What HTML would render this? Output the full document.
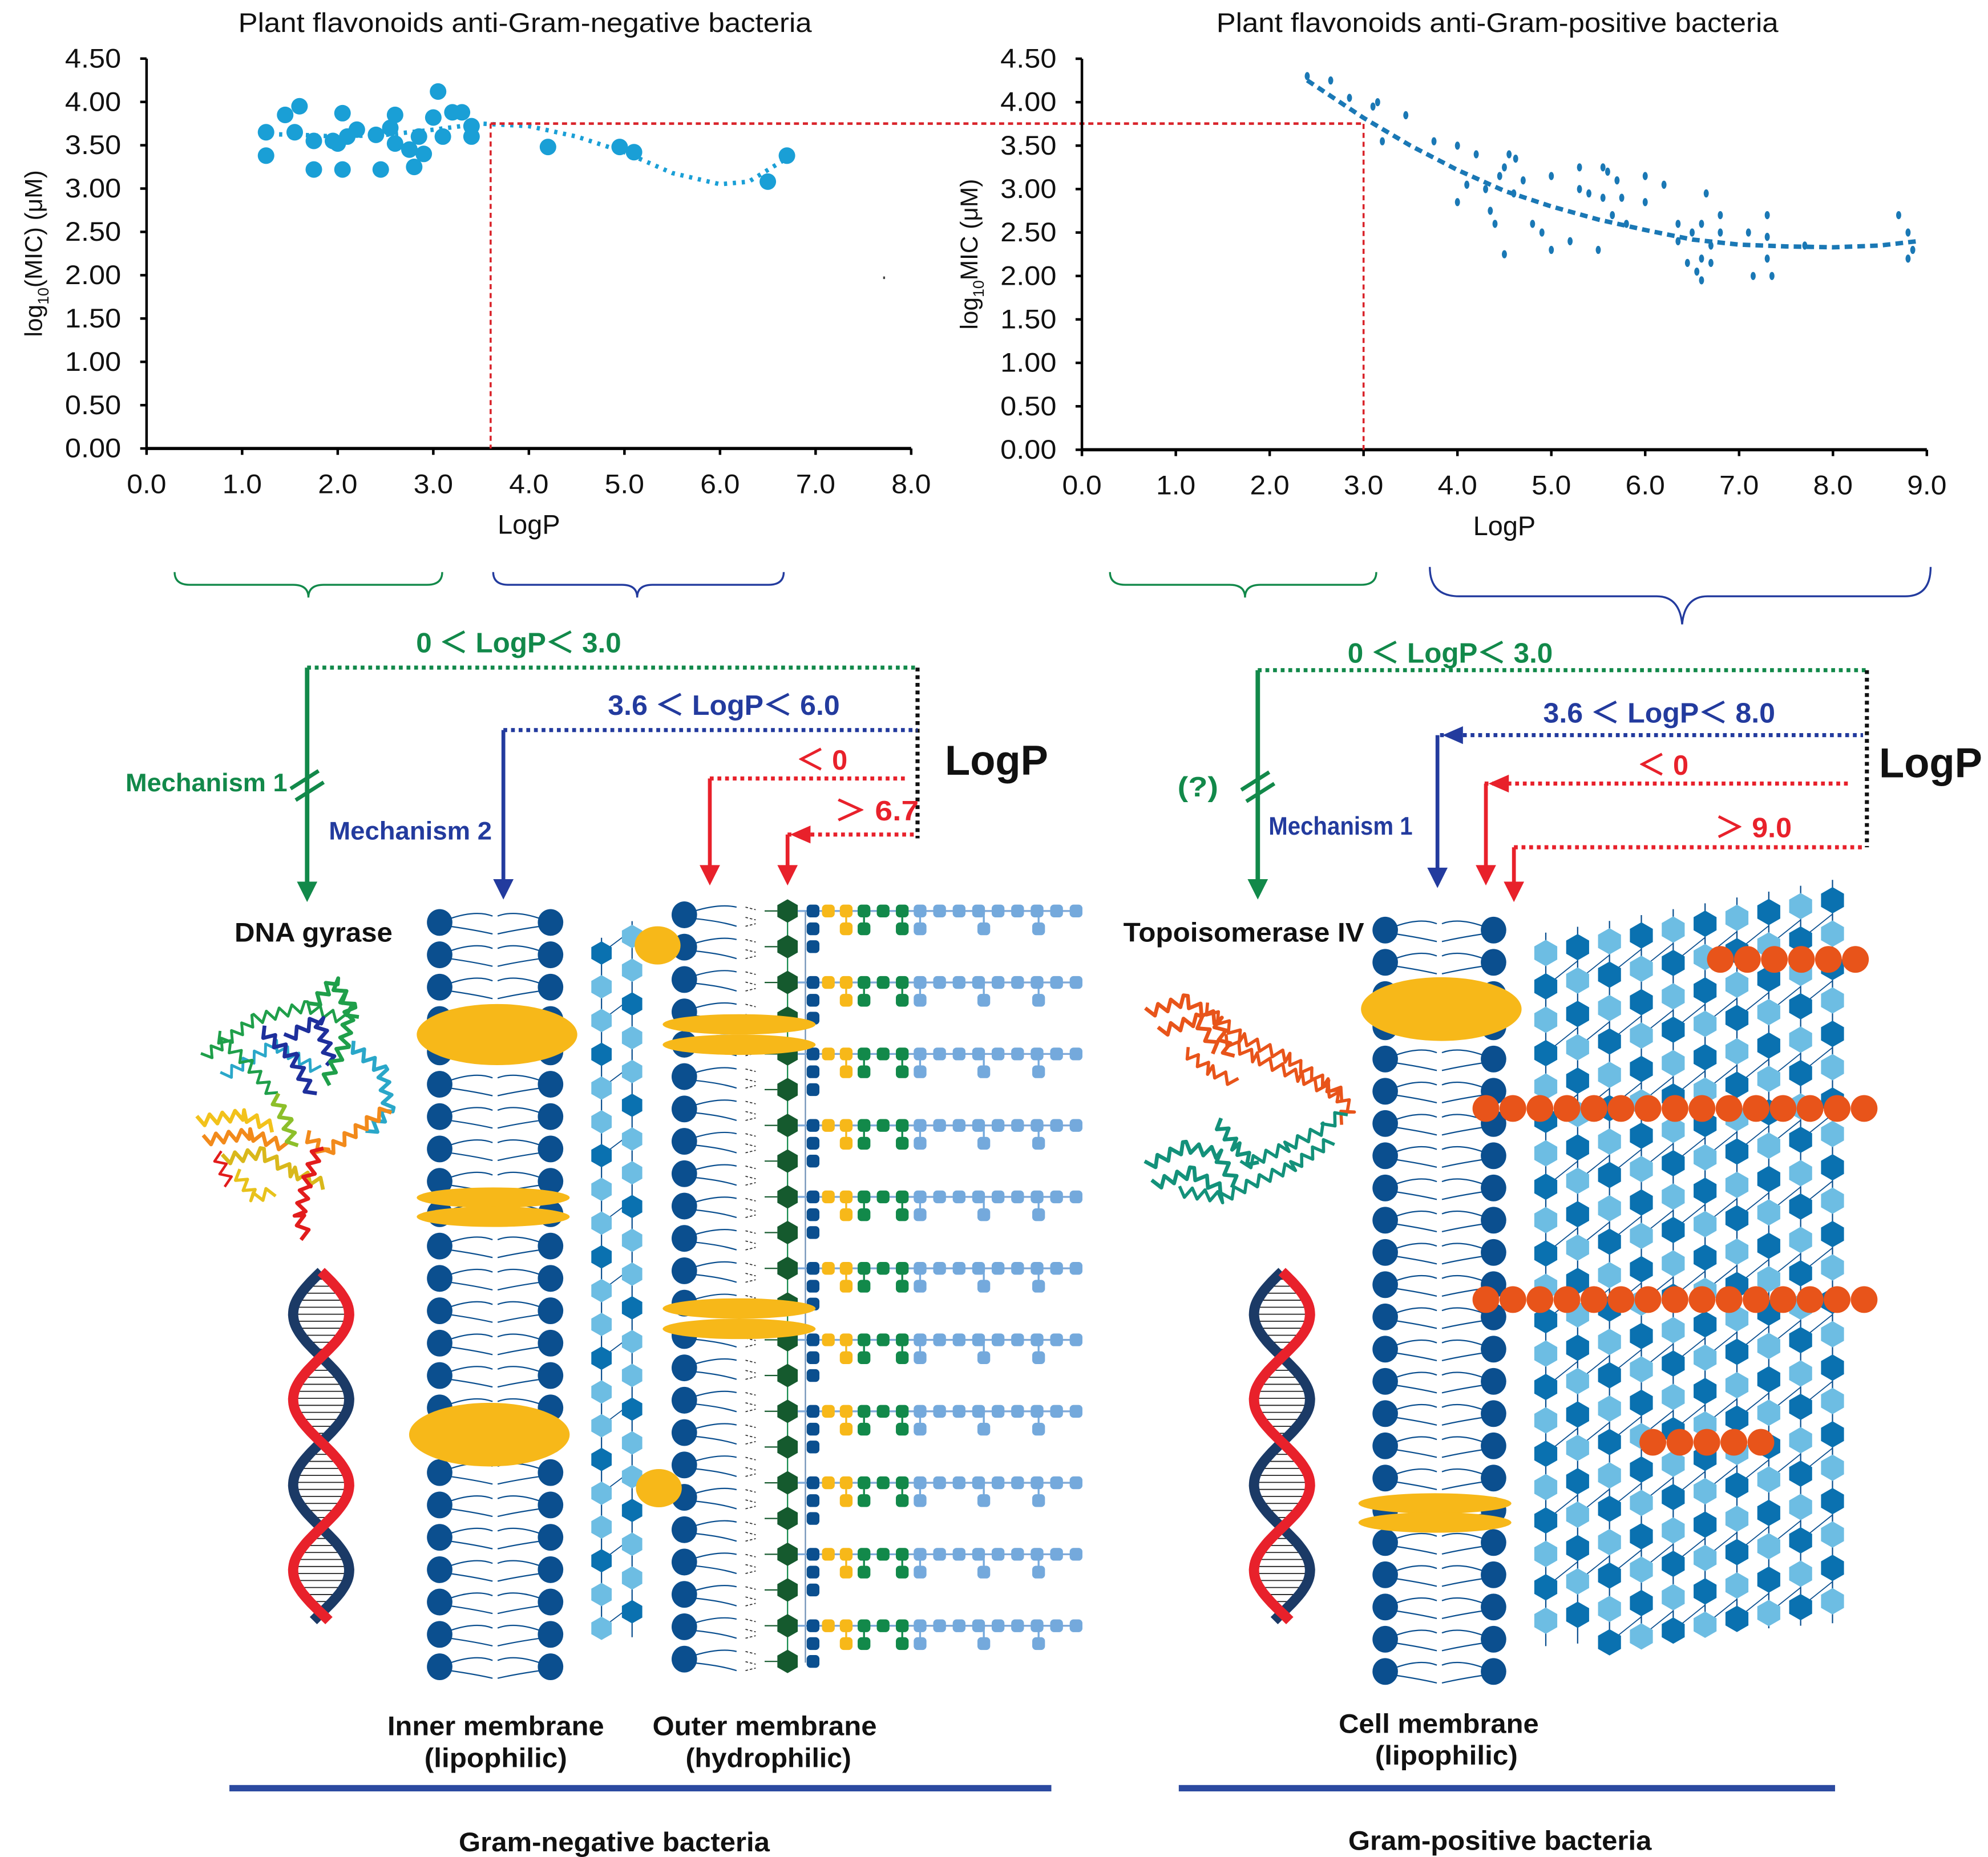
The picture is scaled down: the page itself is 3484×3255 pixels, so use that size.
<!DOCTYPE html>
<html><head><meta charset="utf-8">
<style>
html,body{margin:0;padding:0;background:#fff;}
svg{display:block;font-family:"Liberation Sans",Arial,sans-serif;}
</style></head>
<body>
<svg id="fig" xmlns="http://www.w3.org/2000/svg" width="3484" height="3255" viewBox="0 0 1560 1457.5">
<rect x="0" y="0" width="1560" height="1457.5" fill="#fff"/>
<g id="chartL"></g>
<g id="chartR"></g>
<g id="diagram"></g>
</svg>
<script>
// ---------- Chart data ----------
const negX = [1.25,1.25,1.45,1.6,1.55,1.75,1.75,1.95,2.05,2.05,2.1,2.2,2.4,2.45,2.6,2.6,2.75,2.8,2.85,2.9,3.0,3.1,3.05,3.2,3.3,3.4,3.4,4.2,4.95,5.1,6.5,6.7,2.0,2.55];
const negY = [3.65,3.38,3.85,3.95,3.65,3.55,3.22,3.55,3.87,3.22,3.6,3.68,3.62,3.22,3.52,3.85,3.45,3.25,3.6,3.4,3.82,3.6,4.12,3.88,3.88,3.72,3.6,3.48,3.48,3.42,3.08,3.38,3.52,3.7];
const negTrendX = [1.2,1.6,2.0,2.5,3.0,3.5,4.0,4.5,5.0,5.5,6.0,6.3,6.7];
const negTrendY = [3.63,3.62,3.6,3.62,3.68,3.75,3.72,3.6,3.42,3.18,3.05,3.08,3.35];
const posX = [2.4,2.65,2.85,3.1,3.15,3.45,3.2,3.75,4.2,4.55,4.62,4.5,4.45,4.0,4.3,4.35,4.4,4.6,4.5,4.8,4.9,5.0,5.3,5.55,5.6,5.3,5.4,5.7,5.55,5.65,5.75,5.8,6.0,6.2,6.0,6.35,6.5,5.2,5.0,5.5,6.6,6.7,6.6,6.65,6.8,7.3,7.1,7.3,6.55,6.6,7.15,7.35,6.8,6.45,7.3,7.7,8.7,8.8,8.85,8.8,4.0,6.35,6.7,4.1,4.7];
const posY = [4.3,4.25,4.05,3.95,4.0,3.85,3.55,3.55,3.4,3.4,3.35,3.25,3.15,2.85,3.0,2.75,2.6,2.95,2.25,2.6,2.5,3.15,3.25,3.25,3.2,3.0,2.95,3.1,2.9,2.7,2.9,2.6,3.15,3.05,2.85,2.6,2.5,2.4,2.3,2.3,2.2,2.35,2.6,2.95,2.7,2.7,2.5,2.2,2.05,1.95,2.0,2.0,2.5,2.15,2.45,2.35,2.7,2.5,2.3,2.2,3.5,2.4,2.15,3.05,3.1];
const posTrendX = [2.4,3.0,3.5,4.0,4.5,5.0,5.5,6.0,6.5,7.0,7.5,8.0,8.5,8.9];
const posTrendY = [4.25,3.82,3.5,3.22,2.98,2.8,2.65,2.53,2.42,2.36,2.34,2.33,2.35,2.4];
const yTicks = ["0.00","0.50","1.00","1.50","2.00","2.50","3.00","3.50","4.00","4.50"];
const xTicksL = ["0.0","1.0","2.0","3.0","4.0","5.0","6.0","7.0","8.0"];
const xTicksR = ["0.0","1.0","2.0","3.0","4.0","5.0","6.0","7.0","8.0","9.0"];
const thresholdMIC = [3.75];
const thresholdNeg = [3.6];
const thresholdPos = [3.0];

const NS = "http://www.w3.org/2000/svg";
function mk(tag, parent, attrs){ const e=document.createElementNS(NS,tag); for(const k in attrs) e.setAttribute(k,attrs[k]); parent.appendChild(e); return e; }
function txt(parent, x, y, s, attrs){ const t=mk('text',parent,Object.assign({x:x,y:y},attrs||{})); t.textContent=s; return t; }

const xL = v => 115 + v*75;
const yL = v => 352 - v*68;
const xR = v => 849 + v*73.67;
const yR = v => 353 - v*68.2;

function drawChart(g, xs, ys, xTicks, xMax, ptsX, ptsY, trX, trY, title, titleX, titleLen, yTitleSub, rightStyle, thrX){
  const t = txt(g, titleX, 25, title, {'font-size':21,'text-anchor':'middle',fill:'#111',textLength:titleLen,lengthAdjust:'spacingAndGlyphs'});
  
  
  const ya = mk('line', g, {x1:xs(0),y1:ys(4.5),x2:xs(0),y2:ys(0),stroke:'#000','stroke-width':2});
  
  
  const xa = mk('line', g, {x1:xs(0),y1:ys(0),x2:xs(xMax),y2:ys(0),stroke:'#000','stroke-width':2.5});
  
  
  yTicks.forEach((lab,i)=>{
    const v = parseFloat(lab);
    mk('line', g, {x1:xs(0)-5,y1:ys(v),x2:xs(0),y2:ys(v),stroke:'#000','stroke-width':2});
    const tl = txt(g, xs(0)-20, ys(v)+7, lab, {'font-size':21,'text-anchor':'end',fill:'#111',textLength:44,lengthAdjust:'spacingAndGlyphs'});
    
    
  });
  xTicks.forEach((lab,i)=>{
    const v = parseFloat(lab);
    mk('line', g, {x1:xs(v),y1:ys(0),x2:xs(v),y2:ys(0)+5,stroke:'#000','stroke-width':2});
    const tl = txt(g, xs(v), ys(0)+35, lab, {'font-size':21,'text-anchor':'middle',fill:'#111',textLength:31,lengthAdjust:'spacingAndGlyphs'});
    
    
  });
  const xt = txt(g, xs(0)+(xs(xMax)-xs(0))/2, ys(0)+67, 'LogP', {'font-size':21,'text-anchor':'middle',fill:'#111'});
  
  
  const ytx = xs(0)-82, yty = ys(2.25);
  const yt = mk('text', g, {x:ytx,y:yty,'font-size':19,'text-anchor':'middle',fill:'#111',transform:'rotate(-90 '+ytx+' '+yty+')'});
  
  
  yt.innerHTML = yTitleSub;
  const ty = ys(thresholdMIC[0]);
  const vl = mk('line', g, {x1:xs(thrX),y1:ty,x2:xs(thrX),y2:ys(0),stroke:'#d9232a','stroke-width':1.6,'stroke-dasharray':'4 3'});
  
  
  const d = trX.map((v,i)=>(i?'L':'M')+xs(v).toFixed(1)+' '+ys(trY[i]).toFixed(1)).join(' ');
  const tr = mk('path', g, {d:d,fill:'none',stroke:rightStyle?'#1a78b5':'#1a9fd6','stroke-width':3.5,'stroke-dasharray':rightStyle?'6 4':'2.5 4.5'});
  
  
  ptsX.forEach((v,i)=>{
    let p;
    if(rightStyle){ p = mk('ellipse', g, {cx:xs(v),cy:ys(ptsY[i]),rx:2,ry:3.2,fill:'#1a78b5'}); }
    else { p = mk('circle', g, {cx:xs(v),cy:ys(ptsY[i]),r:6.5,fill:'#1a9fd6'}); }
    
    
  });
}
const gL = document.getElementById('chartL');
const gR = document.getElementById('chartR');
drawChart(gL, xL, yL, xTicksL, 8, negX, negY, negTrendX, negTrendY, 'Plant flavonoids anti-Gram-negative bacteria', 412, 450,
  'log<tspan font-size="12" dy="5">10</tspan><tspan dy="-5">(MIC) (μM)</tspan>', false, thresholdNeg[0]);
drawChart(gR, xR, yR, xTicksR, 9, posX, posY, posTrendX, posTrendY, 'Plant flavonoids anti-Gram-positive bacteria', 1175, 441,
  'log<tspan font-size="12" dy="5">10</tspan><tspan dy="-5">MIC (μM)</tspan>', true, thresholdPos[0]);
const hl = mk('line', gL, {x1:xL(thresholdNeg[0]),y1:yL(thresholdMIC[0]),x2:xR(thresholdPos[0]),y2:yL(thresholdMIC[0]),stroke:'#d9232a','stroke-width':2,'stroke-dasharray':'4 3'});


mk('rect', gL, {x:693,y:217,width:1.5,height:2,fill:'#444'});

// ---------- Diagram ----------
const D = document.getElementById('diagram');
const GREEN='#12894a', BLUE='#233b9e', RED='#e8212b', NAVY='#0b4f8f', YEL='#f7b819', LB='#6dbde3', DB='#0a71b0', ORG='#e8541a';

function brace(x1,x2,y,dir,color,tipX){
  const m = tipX||(x1+x2)/2;
  const d = `M${x1} ${y-10} Q${x1} ${y} ${x1+12} ${y} L${m-12} ${y} Q${m} ${y} ${m} ${y+10} Q${m} ${y} ${m+12} ${y} L${x2-12} ${y} Q${x2} ${y} ${x2} ${y-10}`;
  const b = mk('path', D, {d:d,fill:'none',stroke:color,'stroke-width':1.5});
  
  
}
brace(137,347,459,1,GREEN); brace(387,615,459,1,BLUE,500);
brace(871,1080,459,1,GREEN,977);
(function(){const b=mk('path',D,{d:'M1122 445 Q1122 468 1145 468 L1300 468 Q1318 468 1320 490 Q1322 468 1340 468 L1495 468 Q1515 468 1515 445',fill:'none',stroke:BLUE,'stroke-width':1.5});

})();

function dline(x1,y1,x2,y2,color,name){
  const l = mk('line', D, {x1:x1,y1:y1,x2:x2,y2:y2,stroke:color,'stroke-width':3.2,'stroke-dasharray':'3 3'});
  
  
}
function arrow(x,y1,y2,color,name,w){
  const g = mk('g', D, {});
  
  
  mk('line', g, {x1:x,y1:y1,x2:x,y2:y2-14,stroke:color,'stroke-width':w||3.5});
  mk('path', g, {d:`M${x-8} ${y2-16} L${x+8} ${y2-16} L${x} ${y2} Z`,fill:color});
}
function harrowhead(x,y,color){ mk('path', D, {d:`M${x} ${y} L${x+16} ${y-7} L${x+16} ${y+7} Z`,fill:color}); }
function label(x,y,s,color,size,anchor,name,len){
  const a = {'font-size':size,'font-weight':'bold',fill:color,'text-anchor':anchor||'middle'};
  if(len){ a.textLength=len; a.lengthAdjust='spacingAndGlyphs'; }
  const t = txt(D, x, y, s, a);
  
  
  return t;
}
dline(241,524,720,524,GREEN,'range-line-low');
dline(720,524,720,658,'#111','logp-bracket-line');
dline(395,573,720,573,BLUE,'range-line-mid');
dline(557,611,712,611,RED,'range-line-negative');
dline(618,655,720,655,RED,'range-line-high');
arrow(241,524,708,GREEN,'mechanism-1-arrow',3.5);
arrow(395,573,706,BLUE,'mechanism-2-arrow',3);
arrow(557,611,695,RED,'negative-arrow',3);
arrow(618,655,695,RED,'high-logp-arrow',3);
harrowhead(620,655,RED);
mk('path',D,{d:'M228 619 L250 605 M232 628 L254 614',stroke:GREEN,'stroke-width':3,fill:'none'});
label(407,512,'0 ＜ LogP＜ 3.0',GREEN,22,'middle','range-label-low',161);
label(568,561,'3.6 ＜ LogP＜ 6.0',BLUE,22,'middle','range-label-mid',182);
label(645,604,'＜ 0',RED,22,'middle','range-label-negative',40);
label(688,644,'＞ 6.7',RED,22,'middle','range-label-high',66);
label(162,621,'Mechanism 1',GREEN,20,'middle','mechanism-1-label',127);
label(322,659,'Mechanism 2',BLUE,20,'middle','mechanism-2-label',128);
label(782,608,'LogP','#111',33,'middle','logp-label',81);
label(246,739,'DNA gyrase','#111',21,'middle','dna-gyrase-label',124);
dline(987,526,1465,526,GREEN,'range-line-low');
dline(1465,526,1465,665,'#111','logp-bracket-line');
dline(1130,577,1462,577,BLUE,'range-line-mid');
dline(1165,615,1450,615,RED,'range-line-negative');
dline(1188,665,1462,665,RED,'range-line-high');
arrow(987,526,706,GREEN,'mechanism-arrow',3.5);
arrow(1128,577,697,BLUE,'mechanism-1-arrow',3);
arrow(1166,615,695,RED,'negative-arrow',3);
arrow(1188,665,708,RED,'high-logp-arrow',3);
harrowhead(1132,577,BLUE); harrowhead(1168,615,RED);
mk('path',D,{d:'M974 620 L996 606 M978 629 L1000 615',stroke:GREEN,'stroke-width':3,fill:'none'});
label(1138,520,'0 ＜ LogP＜ 3.0',GREEN,22,'middle','range-label-low',161);
label(1302,567,'3.6 ＜ LogP＜ 8.0',BLUE,22,'middle','range-label-mid',182);
label(1305,608,'＜ 0',RED,22,'middle','range-label-negative',40);
label(1376,657,'＞ 9.0',RED,22,'middle','range-label-high',60);
label(1515,610,'LogP','#111',33,'middle','logp-label',81);
label(940,625,'(?)',GREEN,22,'middle','unknown-mechanism-label',32);
label(1052,655,'Mechanism 1',BLUE,20,'middle','mechanism-1-label',113);
label(976,739,'Topoisomerase IV','#111',21,'middle','topoisomerase-label',189);

function bilayer(xa,xb,y0,n,step,name){
  const g = mk('g', D, {});
  
  
  for(let i=0;i<n;i++){
    const y=y0+i*step;
    const mid=(xa+xb)/2;
    mk('path', g, {d:`M${xa+8} ${y-3} Q${mid-15} ${y-10} ${mid-2} ${y-5} M${xa+8} ${y+3} Q${mid-15} ${y+6} ${mid-2} ${y+9}
      M${xb-8} ${y-3} Q${mid+15} ${y-10} ${mid+2} ${y-5} M${xb-8} ${y+3} Q${mid+15} ${y+6} ${mid+2} ${y+9}`,fill:'none',stroke:NAVY,'stroke-width':1});
    mk('ellipse', g, {cx:xa,cy:y,rx:10,ry:10.5,fill:NAVY});
    mk('ellipse', g, {cx:xb,cy:y,rx:10,ry:10.5,fill:NAVY});
  }
}
function hex(g,x,y,r,color){
  const h=r*1.15;
  mk('path', g, {d:`M${x} ${y-h} L${x+r} ${y-h/2} L${x+r} ${y+h/2} L${x} ${y+h} L${x-r} ${y+h/2} L${x-r} ${y-h/2} Z`,fill:color});
}
function ellipseY(cx,cy,rx,ry,name){ const e=mk('ellipse',D,{cx:cx,cy:cy,rx:rx,ry:ry,fill:YEL});   }

bilayer(345,432,724,24,25.4,'inner-membrane');
(function(){
  const g = mk('g', D, {});
  
  
  const cols=[[472,748],[496,735]];
  cols.forEach((c,j)=>{
    mk('line', g, {x1:c[0],y1:c[1]-12,x2:c[0],y2:1285,stroke:NAVY,'stroke-width':1});
    for(let i=0;i<21;i++){
      const y=c[1]+i*26.5; if(y>1285) break;
      if(j==0 && i%2==0) mk('line', g, {x1:c[0],y1:y,x2:c[0]+24,y2:y-18,stroke:NAVY,'stroke-width':0.8});
      hex(g,c[0],y,8,((i+j)%3==0)?DB:LB);
    }
  });
})();
(function(){
  const g = mk('g', D, {});
  
  
  for(let i=0;i<24;i++){
    const y=718+i*25.4;
    mk('path', g, {d:`M545 ${y-3} Q565 ${y-9} 578 ${y-6} M545 ${y+3} Q565 ${y+5} 578 ${y+9}`,fill:'none',stroke:NAVY,'stroke-width':1});
    mk('path', g, {d:`M585 ${y-6} l8 2 M585 ${y+2} l8 2 M585 ${y+9} l8 -2`,fill:'none',stroke:'#333','stroke-width':0.8,'stroke-dasharray':'2 1.5'});
    mk('ellipse', g, {cx:537,cy:y,rx:10,ry:10.5,fill:NAVY});
  }
  mk('line', g, {x1:618,y1:710,x2:618,y2:1305,stroke:GREEN,'stroke-width':1});
  mk('line', g, {x1:632,y1:715,x2:632,y2:1305,stroke:'#6d8fb5','stroke-width':1});
  for(let k=0;k<11;k++){
    const y=715+k*56.1;
    hex(g,618,y,8,'#155a2e'); hex(g,618,y+28,8,'#155a2e');
    mk('line', g, {x1:600,y1:y,x2:610,y2:y,stroke:'#155a2e','stroke-width':1});
    mk('line', g, {x1:600,y1:y+28,x2:610,y2:y+28,stroke:'#155a2e','stroke-width':1});
    const row = mk('g', g, {});
    
    
    mk('line', row, {x1:626,y1:y,x2:845,y2:y,stroke:'#7fa9d8','stroke-width':1.5});
    [[638,NAVY],[650,YEL],[664,YEL],[678,GREEN],[693,GREEN],[708,GREEN]].forEach(p=>mk('rect',row,{x:p[0]-5,y:y-5,width:10,height:10,rx:3,fill:p[1]}));
    for(let m=0;m<9;m++) mk('rect',row,{x:722+m*15.3-5,y:y-5,width:10,height:10,rx:3,fill:'#74a9dc'});
    [[664,YEL],[678,GREEN],[708,GREEN],[722,'#74a9dc'],[772,'#74a9dc'],[815,'#74a9dc']].forEach(p=>{
      mk('line',row,{x1:p[0],y1:y,x2:p[0],y2:y+14,stroke:p[1],'stroke-width':1.5});
      mk('rect',row,{x:p[0]-5,y:y+9,width:10,height:10,rx:3,fill:p[1]});
    });
    mk('rect',row,{x:633,y:y+9,width:10,height:10,rx:3,fill:NAVY});
    mk('rect',row,{x:633,y:y+23,width:10,height:10,rx:3,fill:NAVY});
  }
})();
ellipseY(390,812,63,24,'flavonoid-inner-membrane');
ellipseY(387,940,60,8,'flavonoid-inner-membrane');
ellipseY(387,955,60,8,'flavonoid-inner-membrane');
ellipseY(384,1126,63,25,'flavonoid-inner-membrane');
ellipseY(580,804,60,8,'flavonoid-outer-membrane');
ellipseY(580,820,60,8,'flavonoid-outer-membrane');
ellipseY(580,1027,60,8,'flavonoid-outer-membrane');
ellipseY(580,1043,60,8,'flavonoid-outer-membrane');
ellipseY(516,742,18,15,'flavonoid-periplasm');
ellipseY(517,1168,18,15,'flavonoid-periplasm');

bilayer(1087,1172,730,24,25.3,'cell-membrane');
(function(){
  const g = mk('g', D, {});
  
  
  for(let j=0;j<10;j++){
    const x=1213+j*25, top=748-j*4.6;
    mk('line', g, {x1:x,y1:top-16,x2:x,y2:1292-j*2,stroke:NAVY,'stroke-width':1});
    for(let i=0;i<22;i++){
      const y=top+i*26.2; if(y>1290) break;
      if(i%2==1 && j<9) mk('line', g, {x1:x,y1:y,x2:x+25,y2:y-20,stroke:NAVY,'stroke-width':0.8});
      hex(g,x,y,9,((i+j)%2==0)?LB:DB);
    }
  }
})();
function orange(x1,n,y){
  const g = mk('g', D, {});
  
  
  for(let i=0;i<n;i++) mk('circle', g, {cx:x1+i*21.2,cy:y,r:10.5,fill:ORG});
}
orange(1350,6,753); orange(1166,15,870); orange(1166,15,1020); orange(1297,5,1132);
ellipseY(1131,792,63,25,'flavonoid-cell-membrane');
ellipseY(1126,1180,60,8,'flavonoid-cell-membrane');
ellipseY(1126,1195,60,8,'flavonoid-cell-membrane');

function dna(cx,y0,y1,name){
  const g = mk('g', D, {});
  
  
  const P=134, A=22;
  for(let y=y0+6;y<y1;y+=5.5){
    const a=Math.sin((y-y0)/P*2*Math.PI)*A, b=-a;
    mk('line', g, {x1:cx+Math.min(a,b),y1:y,x2:cx+Math.max(a,b),y2:y,stroke:'#222','stroke-width':0.8});
  }
  let d1='',d2='';
  for(let y=y0;y<=y1;y+=2){
    const a=Math.sin((y-y0)/P*2*Math.PI)*A;
    d1+=(y==y0?'M':'L')+(cx+a).toFixed(1)+' '+y+' ';
    d2+=(y==y0?'M':'L')+(cx-a).toFixed(1)+' '+y+' ';
  }
  mk('path', g, {d:d2,fill:'none',stroke:'#1b3a66','stroke-width':8});
  mk('path', g, {d:d1,fill:'none',stroke:RED,'stroke-width':8});
}
dna(252,998,1272,'dna-helix');
dna(1006,998,1272,'dna-helix');

function coil(g,pts,color,w){
  let d='';
  for(let s=0;s<pts.length-1;s++){
    const [x1,y1]=pts[s],[x2,y2]=pts[s+1];
    const len=Math.hypot(x2-x1,y2-y1), n=Math.max(2,Math.floor(len/5));
    const nx=-(y2-y1)/len, ny=(x2-x1)/len;
    for(let k=0;k<=n;k++){
      const t=k/n, o=(k%2?4:-4);
      d+=(s==0&&k==0?'M':'L')+(x1+(x2-x1)*t+nx*o).toFixed(1)+' '+(y1+(y2-y1)*t+ny*o).toFixed(1)+' ';
    }
  }
  mk('path', g, {d:d,fill:'none',stroke:color,'stroke-width':w||2.2,'stroke-linejoin':'round'});
}
(function(){
  const g = mk('g', D, {});
  
  
  coil(g,[[160,830],[200,800],[240,790],[270,800]],'#1f9f4a');
  coil(g,[[175,845],[215,820],[250,840]],'#2aa7c9');
  coil(g,[[205,808],[230,830],[245,860]],'#1e2f9c',3);
  coil(g,[[225,815],[250,800],[260,835]],'#1e2f9c',3);
  coil(g,[[245,790],[262,770],[275,790],[270,820],[255,850]],'#1f9f4a',3);
  coil(g,[[262,770],[268,780],[278,800]],'#1f9f4a',3);
  coil(g,[[170,812],[195,835],[215,860]],'#1f9f4a');
  coil(g,[[275,820],[300,840],[305,870],[290,890]],'#2aa7c9',3);
  coil(g,[[155,880],[190,875],[215,885]],'#f2c21b',3);
  coil(g,[[160,895],[195,890],[225,900]],'#f28a1b',3);
  coil(g,[[175,910],[205,905],[230,920],[255,930]],'#d9b81b',3);
  coil(g,[[215,860],[225,880],[230,900]],'#8dbf2a',3);
  coil(g,[[240,890],[255,905],[290,880],[305,870]],'#f28a1b',3);
  coil(g,[[250,900],[240,930],[235,955],[240,972]],'#e21c1c',3);
  coil(g,[[185,920],[200,940],[215,935]],'#e8c21b',2.5);
  coil(g,[[170,905],[180,930]],'#e21c1c',2);
})();
(function(){
  const g = mk('g', D, {});
  
  
  coil(g,[[900,795],[930,785],[955,800],[965,830]],'#e8541a',3);
  coil(g,[[910,810],[940,800],[955,825]],'#e8541a',3);
  coil(g,[[945,790],[975,815],[1010,830],[1040,850],[1055,860]],'#e8541a',2.5);
  coil(g,[[960,815],[985,830],[1020,845],[1050,860]],'#e8541a',2.5);
  coil(g,[[930,825],[950,840],[970,850]],'#e8541a',2.5);
  coil(g,[[1040,850],[1060,870],[1050,880]],'#e8541a',2.5);
  coil(g,[[900,915],[930,900],[955,905],[970,930]],'#13917a',3);
  coil(g,[[905,930],[935,920],[960,935]],'#13917a',3);
  coil(g,[[955,880],[970,900],[985,915]],'#13917a',3);
  coil(g,[[975,915],[1010,900],[1040,885],[1055,872]],'#13917a',2.5);
  coil(g,[[980,930],[1015,915],[1045,895]],'#13917a',2.5);
  coil(g,[[925,935],[960,940],[990,925]],'#13917a',2.5);
})();

label(389,1362,'Inner membrane','#111',21,'middle','inner-membrane-label',170);
label(389,1387,'(lipophilic)','#111',21,'middle','inner-membrane-sublabel',112);
label(600,1362,'Outer membrane','#111',21,'middle','outer-membrane-label',176);
label(603,1387,'(hydrophilic)','#111',21,'middle','outer-membrane-sublabel',130);
label(1129,1360,'Cell membrane','#111',21,'middle','cell-membrane-label',157);
label(1135,1385,'(lipophilic)','#111',21,'middle','cell-membrane-sublabel',112);
(function(){
  const b1=mk('rect',D,{x:180,y:1401,width:645,height:5,fill:'#2c4aa0'});
  
  
  const b2=mk('rect',D,{x:925,y:1401,width:515,height:5,fill:'#2c4aa0'});
  
  
})();
label(482,1453,'Gram-negative bacteria','#111',21,'middle','gram-negative-label',244);
label(1177,1452,'Gram-positive bacteria','#111',21,'middle','gram-positive-label',238);
</script>
</body></html>
